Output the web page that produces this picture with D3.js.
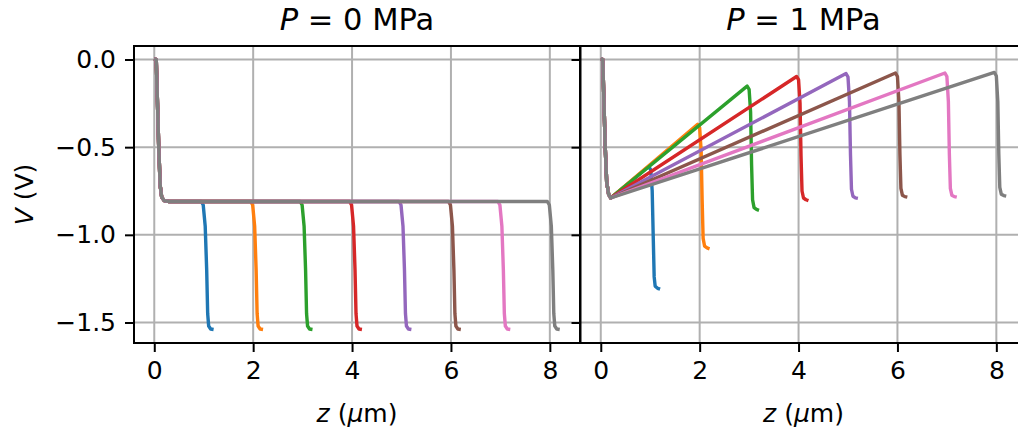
<!DOCTYPE html>
<html><head><meta charset="utf-8">
<script src="https://cdn.jsdelivr.net/npm/d3@7"></script>
<style>
html,body{margin:0;padding:0;background:#fff;}
svg{display:block;font-family:"DejaVu Sans",sans-serif;}
</style></head><body>
<svg id="chart" width="1018" height="435"></svg>
<script>
// ---------- data ----------
const seriesColors = ["#1f77b4","#ff7f0e","#2ca02c","#d62728","#9467bd","#8c564b","#e377c2","#7f7f7f"];
const panelPressures = ["0", "1"];
const xTicks = [0, 2, 4, 6, 8];
const xTickLabels = ["0", "2", "4", "6", "8"];
const yTicks = [0.0, -0.5, -1.0, -1.5];
const yTickLabels = ["0.0", "\u22120.5", "\u22121.0", "\u22121.5"];
const xDomain = [-0.41, 8.61];
const yDomain = [-1.617, 0.077];

// P = 0 MPa : common start, then one tail per channel length
const p0Head = [[0.00,0.005],[0.04,0.00],[0.06,-0.20],[0.09,-0.50],[0.12,-0.72],[0.15,-0.785],[0.20,-0.805],[0.30,-0.81]];
const p0Tails = [
  [[0.95,-0.81],[0.99,-0.83],[1.03,-0.95],[1.06,-1.20],[1.08,-1.45],[1.10,-1.52],[1.14,-1.537],[1.20,-1.54]],
  [[1.95,-0.81],[1.99,-0.83],[2.03,-0.95],[2.06,-1.20],[2.08,-1.45],[2.10,-1.52],[2.14,-1.537],[2.20,-1.54]],
  [[2.95,-0.81],[2.99,-0.83],[3.03,-0.95],[3.06,-1.20],[3.08,-1.45],[3.10,-1.52],[3.14,-1.537],[3.20,-1.54]],
  [[3.95,-0.81],[3.99,-0.83],[4.03,-0.95],[4.06,-1.20],[4.08,-1.45],[4.10,-1.52],[4.14,-1.537],[4.20,-1.54]],
  [[4.95,-0.81],[4.99,-0.83],[5.03,-0.95],[5.06,-1.20],[5.08,-1.45],[5.10,-1.52],[5.14,-1.537],[5.20,-1.54]],
  [[5.95,-0.81],[5.99,-0.83],[6.03,-0.95],[6.06,-1.20],[6.08,-1.45],[6.10,-1.52],[6.14,-1.537],[6.20,-1.54]],
  [[6.95,-0.81],[6.99,-0.83],[7.03,-0.95],[7.06,-1.20],[7.08,-1.45],[7.10,-1.52],[7.14,-1.537],[7.20,-1.54]],
  [[7.95,-0.81],[7.99,-0.83],[8.03,-0.95],[8.06,-1.20],[8.08,-1.45],[8.10,-1.52],[8.14,-1.537],[8.20,-1.54]]
];

// P = 1 MPa : common start, then linear rise to a peak and a drop
const p1Head = [[0.00,0.005],[0.04,0.00],[0.06,-0.20],[0.09,-0.50],[0.12,-0.70],[0.16,-0.77],[0.20,-0.79]];
const p1Tails = [
  [[0.97,-0.610],[1.01,-0.63],[1.04,-0.75],[1.06,-1.00],[1.08,-1.24],[1.10,-1.293],[1.15,-1.305],[1.20,-1.31]],
  [[1.96,-0.370],[2.00,-0.39],[2.03,-0.52],[2.05,-0.80],[2.07,-1.02],[2.10,-1.065],[2.15,-1.075],[2.20,-1.08]],
  [[2.96,-0.152],[3.00,-0.17],[3.03,-0.30],[3.05,-0.60],[3.07,-0.80],[3.10,-0.845],[3.15,-0.855],[3.20,-0.86]],
  [[3.96,-0.097],[4.00,-0.115],[4.03,-0.25],[4.05,-0.55],[4.07,-0.75],[4.10,-0.790],[4.15,-0.800],[4.20,-0.805]],
  [[4.96,-0.080],[5.00,-0.10],[5.03,-0.24],[5.05,-0.54],[5.07,-0.74],[5.10,-0.780],[5.15,-0.789],[5.20,-0.792]],
  [[5.96,-0.077],[6.00,-0.097],[6.03,-0.24],[6.05,-0.54],[6.07,-0.735],[6.10,-0.774],[6.15,-0.782],[6.20,-0.785]],
  [[6.96,-0.077],[7.00,-0.097],[7.03,-0.24],[7.05,-0.54],[7.07,-0.735],[7.10,-0.774],[7.15,-0.782],[7.20,-0.785]],
  [[7.96,-0.074],[8.00,-0.094],[8.03,-0.24],[8.05,-0.54],[8.07,-0.73],[8.10,-0.768],[8.15,-0.776],[8.20,-0.779]]
];

const panels = [
  {pressure: panelPressures[0], head: p0Head, tails: p0Tails},
  {pressure: panelPressures[1], head: p1Head, tails: p1Tails}
];

// ---------- layout ----------
const W = 1018, H = 435;
const plotTop = 46, plotBottom = 343;
const panelLeft = [134, 580.5];
const panelW = 446;
const tickFont = 25;
const titleFont = 30.5;
const tickLen = 9, tickPad = 9;
const gridColor = "#b0b0b0";

const svg = d3.select("#chart");
svg.append("rect").attr("width", W).attr("height", H).attr("fill", "#fff");

const yScale = d3.scaleLinear().domain(yDomain).range([plotBottom, plotTop]);

panels.forEach((p, pi) => {
  const x0 = panelLeft[pi];
  const xScale = d3.scaleLinear().domain(xDomain).range([x0, x0 + panelW]);
  const g = svg.append("g");

  const clipId = "clip" + pi;
  svg.append("clipPath").attr("id", clipId)
    .append("rect").attr("x", x0).attr("y", plotTop).attr("width", panelW).attr("height", plotBottom - plotTop);

  // grid
  const grid = g.append("g");
  grid.selectAll("line.vx").data(xTicks).join("line")
    .attr("class", "vx")
    .attr("x1", d => xScale(d)).attr("x2", d => xScale(d))
    .attr("y1", plotTop).attr("y2", plotBottom)
    .attr("stroke", gridColor).attr("stroke-width", 2);
  grid.selectAll("line.hy").data(yTicks).join("line")
    .attr("class", "hy")
    .attr("x1", x0).attr("x2", x0 + panelW)
    .attr("y1", d => yScale(d)).attr("y2", d => yScale(d))
    .attr("stroke", gridColor).attr("stroke-width", 2);

  // lines
  const line = d3.line().x(d => xScale(d[0])).y(d => yScale(d[1]));
  const data = p.tails.map(t => p.head.concat(t));
  g.append("g").attr("clip-path", `url(#${clipId})`)
    .selectAll("path").data(data).join("path")
    .attr("d", line)
    .attr("fill", "none")
    .attr("stroke", (d, i) => seriesColors[i])
    .attr("stroke-width", 3.4)
    .attr("stroke-linejoin", "round")
    .attr("stroke-linecap", "butt");

  // spines
  g.append("rect").attr("x", x0).attr("y", plotTop).attr("width", panelW).attr("height", plotBottom - plotTop)
    .attr("fill", "none").attr("stroke", "#000").attr("stroke-width", 2);

  // x axis
  const xAxis = d3.axisBottom(xScale).tickValues(xTicks)
    .tickFormat((d, i) => xTickLabels[i]).tickSize(tickLen).tickPadding(tickPad);
  const xa = g.append("g").attr("transform", `translate(0,${plotBottom})`).call(xAxis);
  xa.select(".domain").remove();
  xa.selectAll("line").attr("stroke", "#000").attr("stroke-width", 2);
  xa.selectAll("text").attr("fill", "#000").style("font-size", tickFont + "px")
    .style("font-family", "DejaVu Sans");

  // y axis
  const yAxis = d3.axisLeft(yScale).tickValues(yTicks)
    .tickFormat((d, i) => pi === 0 ? yTickLabels[i] : "").tickSize(tickLen).tickPadding(tickPad);
  const ya = g.append("g").attr("transform", `translate(${x0},0)`).call(yAxis);
  ya.select(".domain").remove();
  ya.selectAll("line").attr("stroke", "#000").attr("stroke-width", 2);
  ya.selectAll("text").attr("fill", "#000").style("font-size", tickFont + "px")
    .style("font-family", "DejaVu Sans");

  // title
  const cx = x0 + panelW / 2;
  const t = svg.append("text").attr("x", cx).attr("y", 30).attr("text-anchor", "middle")
    .style("font-size", titleFont + "px").attr("fill", "#000");
  t.append("tspan").style("font-style", "italic").text("P");
  t.append("tspan").text(" = " + p.pressure + " MPa");

  // x label
  const xl = svg.append("text").attr("x", cx).attr("y", 422).attr("text-anchor", "middle")
    .style("font-size", tickFont + "px").attr("fill", "#000");
  xl.append("tspan").style("font-style", "italic").text("z");
  xl.append("tspan").text(" (");
  xl.append("tspan").style("font-style", "italic").text("\u03bc");
  xl.append("tspan").text("m)");
});

// y label
const yl = svg.append("text")
  .attr("transform", `translate(33,${(plotTop + plotBottom) / 2}) rotate(-90)`)
  .attr("text-anchor", "middle").style("font-size", tickFont + "px").attr("fill", "#000");
yl.append("tspan").style("font-style", "italic").text("V");
yl.append("tspan").text(" (V)");
</script>
</body></html>
